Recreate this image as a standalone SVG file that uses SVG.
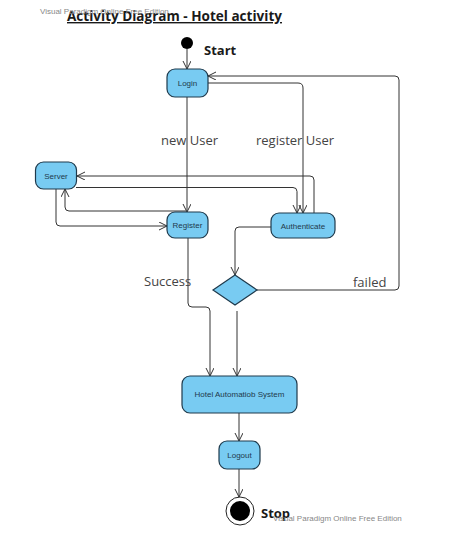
<svg xmlns="http://www.w3.org/2000/svg" width="459" height="551" viewBox="0 0 459 551">
<style>
.node rect, .node polygon { fill:#78CBF2; stroke:#1F3A4C; stroke-width:1.2; }
.nt { font-family:"Liberation Sans", Arial, sans-serif; font-size:8px; fill:#1F3A4C; text-anchor:middle; }
.lbl { font-family:"Open Sans", "Noto Sans", sans-serif; font-size:13px; fill:#444; }
.wm { font-family:"Liberation Sans", Arial, sans-serif; font-size:8px; fill:#888; }
.big { font-family:"Open Sans", "Noto Sans", sans-serif; font-weight:bold; fill:#1a1a1a; }
#connectors path { fill:none; stroke:#333; stroke-width:1; marker-end:url(#arr); }
</style>
<defs>
<marker id="arr" markerWidth="10" markerHeight="10" refX="8" refY="4" orient="auto" markerUnits="userSpaceOnUse">
<path d="M0,0 L8,4 L0,8" fill="none" stroke="#333" stroke-width="1"/>
</marker>
</defs>
<rect width="459" height="551" fill="#fff"/>
<text class="big" x="67" y="21" font-size="14" text-decoration="underline" textLength="215" lengthAdjust="spacingAndGlyphs">Activity Diagram - Hotel activity</text>
<text class="wm" x="40" y="14">Visual Paradigm Online Free Edition</text>

<g id="connectors">
<path d="M187,49 V69"/>
<path d="M187,97 V212"/>
<path d="M208,83 H298 Q303,83 303,88 V213"/>
<path d="M186,211 H69 Q65,211 65,207 V189"/>
<path d="M56,189 V222 Q56,226 60,226 H167"/>
<path d="M76,187.5 H293 Q297,187.5 297,191.5 V213"/>
<path d="M314,213 V180 Q314,176 310,176 H77"/>
<path d="M271,227 H239 Q235,227 235,231 V275"/>
<path d="M257,290 H395 Q399,290 399,286 V80 Q399,76 395,76 H208"/>
<path d="M188,238 V303 Q188,307 192,307 H206 Q210,307 210,311 V376"/>
<path d="M237,311 V376"/>
<path d="M239,413 V441"/>
<path d="M239,469 V497"/>
</g>

<text class="lbl" x="161" y="145">new User</text>
<text class="lbl" x="256" y="145">register User</text>
<text class="lbl" x="144" y="286">Success</text>
<text class="lbl" x="353" y="287">failed</text>

<g id="start">
<circle cx="187" cy="43" r="6" fill="#000"/>
<text class="big" x="204" y="55" font-size="13">Start</text>
</g>
<g id="login" class="node">
<rect x="167" y="69" width="41" height="28" rx="8"/>
<text class="nt" x="187.5" y="86">Login</text>
</g>
<g id="server" class="node">
<rect x="35.5" y="162" width="41" height="27" rx="8"/>
<text class="nt" x="56" y="178.5">Server</text>
</g>
<g id="register" class="node">
<rect x="167" y="212" width="41" height="26" rx="8"/>
<text class="nt" x="187.5" y="228">Register</text>
</g>
<g id="authenticate" class="node">
<rect x="271" y="213" width="64" height="25" rx="8"/>
<text class="nt" x="303" y="228.5">Authenticate</text>
</g>
<g id="decision" class="node">
<polygon points="235,275 257,290 235,305 213,290"/>
</g>
<g id="hotel" class="node">
<rect x="182" y="376" width="115" height="37" rx="8"/>
<text class="nt" x="239.5" y="397">Hotel Automatiob System</text>
</g>
<g id="logout" class="node">
<rect x="219" y="441" width="41" height="28" rx="8"/>
<text class="nt" x="239.5" y="458">Logout</text>
</g>
<g id="stop">
<circle cx="240" cy="511" r="14" fill="#fff" stroke="#222" stroke-width="1"/>
<circle cx="240" cy="511" r="10" fill="#000"/>
<text class="big" x="261" y="518" font-size="13">Stop</text>
</g>
<text class="wm" x="273" y="521">Visual Paradigm Online Free Edition</text>
</svg>
